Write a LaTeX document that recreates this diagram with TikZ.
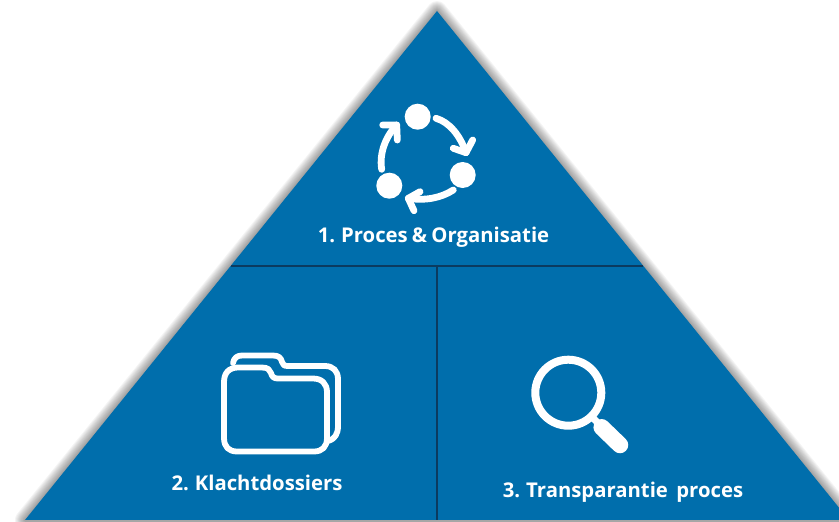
\documentclass[tikz,border=0pt]{standalone}
\usepackage{fontspec}
\setmainfont[WordSpace=0.8]{Open Sans}
\definecolor{pyrblue}{HTML}{006EAC}
\definecolor{pyrline}{HTML}{0B3B60}
\tikzset{
  label text/.style={text=white,font=\bfseries\fontsize{20.3}{24}\selectfont,inner sep=0pt,anchor=center},
  divider/.style={draw=pyrline,line width=1.6},
  icon/.style={draw=white,line cap=round,line join=round},
  arrowstroke/.style={icon,line width=6.8},
  dot/.style={fill=white,draw=none}
}
\begin{document}
\begin{tikzpicture}[x=1pt,y=-1pt]
\useasboundingbox (0,0) rectangle (839,522);
\clip (0,0) rectangle (839,522);
\coordinate (apex) at (437,11);
\coordinate (bl) at (25,520);
\coordinate (br) at (849,520);
\coordinate (ml) at (231,266);
\coordinate (mr) at (643,266);
\coordinate (mb) at (437,520);
\coordinate (mt) at (437,266);
% soft shadow
\foreach \w in {20,18,16,14,12,10,8,6,4,2}{
  \draw[black,opacity=0.042,line width=\w,line join=round] (apex) -- (bl) -- (br) -- cycle;
}
\fill[pyrblue] (apex) -- (bl) -- (br) -- cycle;
\fill[gray!70] (25,520) rectangle (839,522);
\draw[divider] (ml) -- (mr);
\draw[divider] (mt) -- (mb);
% cycle icon
\fill[dot] (417.7,116.7) circle (13);
\fill[dot] (462.7,175) circle (13);
\fill[dot] (389.3,185.7) circle (13);
\draw[arrowstroke] (436,118.3) .. controls (449,122) and (460,135) .. (466,152.7);
\draw[arrowstroke] (453.3,148.3) -- (466,152.7) -- (472.7,140);
\draw[arrowstroke] (453.3,190) .. controls (441,198) and (425,201) .. (408.3,198.3);
\draw[arrowstroke] (420,191.7) -- (408.3,198.3) -- (414,210.7);
\draw[arrowstroke] (381.7,169.3) .. controls (379,153) and (386,136) .. (396.7,125);
\draw[arrowstroke] (382.7,125) -- (396.7,125) -- (397.3,140);
% folder icon
\draw[icon,line width=5.8] (233,363)
  .. controls (234,358) and (237,355.5) .. (242,355.5) -- (273,355.5)
  .. controls (279,355.5) and (281,358) .. (282,362)
  .. controls (283,365) and (284,366) .. (288,366) -- (325,366)
  .. controls (333,366) and (338,371) .. (338,379) -- (338,426)
  .. controls (338,434) and (335,439) .. (328,441);
\draw[icon,line width=5.8] (224,382)
  .. controls (224,373) and (229,367.5) .. (238,367.5) -- (262,367.5)
  .. controls (268,367.5) and (270,370) .. (271,373)
  .. controls (272,377) and (274,378.5) .. (278,378.5) -- (313,378.5)
  .. controls (322,378.5) and (327,384) .. (327,392) -- (327,438)
  .. controls (327,447) and (322,451.5) .. (314,451.5) -- (237,451.5)
  .. controls (229,451.5) and (224,447) .. (224,438) -- cycle;
% magnifier icon
\draw[white,line width=8] (568.3,392.7) circle (33);
\draw[white,line width=7] (591,416) -- (603,428);
\draw[white,line width=16.5,line cap=round] (601.7,427.3) -- (620,445);
% labels
\node[label text] (lab1) at (433.5,237) {1. Proces \& Organisatie};
\node[label text] (lab2) at (257,483) {2. Klachtdossiers};
\node[label text] (lab3) at (623,492) {3. Transparantie\ \ proces};
\end{tikzpicture}
\end{document}
